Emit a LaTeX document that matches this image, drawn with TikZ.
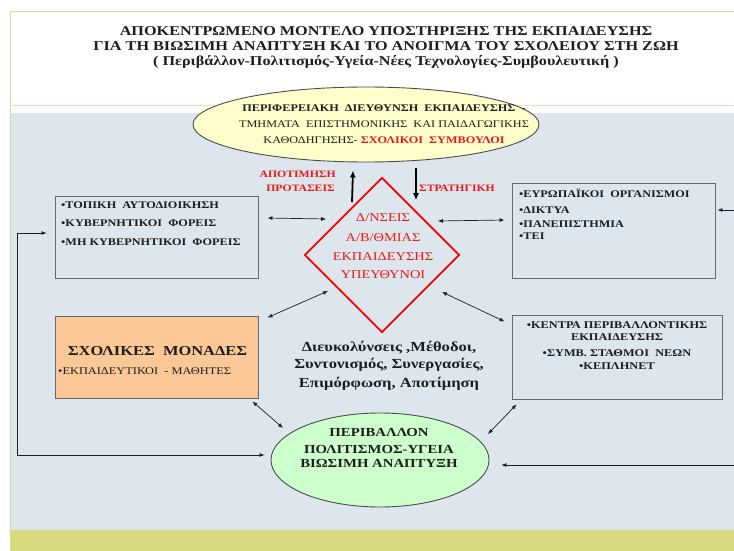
\documentclass[tikz,border=0pt]{standalone}
\usepackage{fontspec}
\setmainfont{Liberation Serif}[FakeStretch=1.2]
\usetikzlibrary{arrows.meta,shapes.geometric,calc}

\definecolor{slidebg}{RGB}{221,230,236}
\definecolor{band}{RGB}{214,217,125}
\definecolor{frameline}{RGB}{214,220,160}
\definecolor{paleyellow}{RGB}{255,255,204}
\definecolor{palegreen}{RGB}{204,255,204}
\definecolor{peach}{RGB}{250,200,150}
\definecolor{boxline}{RGB}{105,105,105}
\definecolor{alertred}{RGB}{235,25,25}
\definecolor{ink}{RGB}{30,30,30}

\tikzset{
  panel/.style={draw=boxline, line width=0.9pt, inner sep=0pt, rectangle},
  tip/.tip={Latex[length=5pt,width=4pt]},
  conn/.style={draw=ink, line width=0.7pt, -tip},
  dconn/.style={draw=ink, line width=0.7pt, tip-tip},
  bigarrow/.style={draw=black, line width=1.8pt, -{Latex[length=7pt,width=6pt]}},
  txt/.style={inner sep=0pt, text=ink},
  titletxt/.style={txt, anchor=base, font=\fontsize{13.5}{13.5}\selectfont\bfseries},
  itemtxt/.style={txt, anchor=base west, font=\fontsize{10.2}{10}\selectfont\bfseries},
  ctxt/.style={txt, anchor=base, font=\fontsize{10.3}{10}\selectfont\bfseries},
  redlbl/.style={inner sep=0pt, text=alertred, font=\fontsize{9.8}{10}\selectfont\bfseries},
  diatxt/.style={inner sep=0pt, anchor=base, text=alertred, font=\fontsize{12}{12}\selectfont},
  midtxt/.style={txt, anchor=base, font=\fontsize{13.8}{13.8}\selectfont\bfseries},
  gretxt/.style={txt, anchor=base, font=\fontsize{12.3}{12.3}\selectfont\bfseries},
}

\begin{document}
\begin{tikzpicture}[x=1pt,y=-1pt]
\useasboundingbox (0,0) rectangle (734,551);

% slide background, body panel and footer band
\fill[white] (0,0) rectangle (734,551);
\fill[slidebg] (10,113) rectangle (734,530);
\fill[band] (10,530) rectangle (734,551);
\draw[frameline, line width=0.8pt] (734,11) -- (10,11) -- (10,551);
\draw[frameline, line width=0.6pt, densely dotted] (10,105) -- (734,105);

% title
\node[titletxt] (title1) at (386,35.5) {ΑΠΟΚΕΝΤΡΩΜΕΝΟ ΜΟΝΤΕΛΟ ΥΠΟΣΤΗΡΙΞΗΣ ΤΗΣ ΕΚΠΑΙΔΕΥΣΗΣ};
\node[titletxt] (title2) at (386,50.5) {ΓΙΑ ΤΗ ΒΙΩΣΙΜΗ ΑΝΑΠΤΥΞΗ ΚΑΙ ΤΟ ΑΝΟΙΓΜΑ ΤΟΥ ΣΧΟΛΕΙΟΥ ΣΤΗ ΖΩΗ};
\node[titletxt] (title3) at (386,65.5) {( Περιβάλλον-Πολιτισμός-Υγεία-Νέες Τεχνολογίες-Συμβουλευτική )};

% regional directorate
\node[ellipse, draw=black!70, line width=0.9pt, fill=paleyellow, minimum width=346, minimum height=75, inner sep=0pt] (reg) at (366,124.5) {};
\node[txt, anchor=base, font=\fontsize{10.2}{10}\selectfont\bfseries] (reg1) at (384,111.5) {ΠΕΡΙΦΕΡΕΙΑΚΗ\ \ ΔΙΕΥΘΥΝΣΗ\ \ ΕΚΠΑΙΔΕΥΣΗΣ\ \ -};
\node[txt, anchor=base, font=\fontsize{10.2}{10}\selectfont] (reg2) at (384,127.5) {ΤΜΗΜΑΤΑ\ \ ΕΠΙΣΤΗΜΟΝΙΚΗΣ\ \ ΚΑΙ ΠΑΙΔΑΓΩΓΙΚΗΣ};
\node[txt, anchor=base, font=\fontsize{10.2}{10}\selectfont] (reg3) at (384,143.5) {ΚΑΘΟΔΗΓΗΣΗΣ- {\color{alertred}\bfseries ΣΧΟΛΙΚΟΙ\ \ ΣΥΜΒΟΥΛΟΙ}};

% central diamond
\node[diamond, aspect=1, draw=red, line width=1.7pt, minimum width=155, minimum height=155, inner sep=0pt] (dia) at (382,255) {};
\node[diatxt] (dia1) at (383,221.5) {Δ/ΝΣΕΙΣ};
\node[diatxt] (dia2) at (383,241) {Α/Β/ΘΜΙΑΣ};
\node[diatxt] (dia3) at (383,260) {ΕΚΠΑΙΔΕΥΣΗΣ};
\node[diatxt] (dia4) at (383,278) {ΥΠΕΥΘΥΝΟΙ};

% labels on the vertical arrows
\node[redlbl, anchor=base east] (lblA) at (336,177.5) {ΑΠΟΤΙΜΗΣΗ};
\node[redlbl, anchor=base east] (lblB) at (335,191.5) {ΠΡΟΤΑΣΕΙΣ};
\node[redlbl, anchor=base west] (lblC) at (419,191.5) {ΣΤΡΑΤΗΓΙΚΗ};

% local bodies
\node[panel, minimum width=203, minimum height=82] (loc) at (156.5,237) {};
\node[itemtxt] (loc1) at (61,208.5) {•ΤΟΠΙΚΗ\ \ ΑΥΤΟΔΙΟΙΚΗΣΗ};
\node[itemtxt] (loc2) at (61,226.5) {•ΚΥΒΕΡΝΗΤΙΚΟΙ\ \ ΦΟΡΕΙΣ};
\node[itemtxt] (loc3) at (61,245.5) {•ΜΗ ΚΥΒΕΡΝΗΤΙΚΟΙ\ \ ΦΟΡΕΙΣ};

% european bodies
\node[panel, minimum width=203, minimum height=95] (eur) at (613.5,230.5) {};
\node[itemtxt] (eur1) at (519,197.5) {•ΕΥΡΩΠΑΪΚΟΙ\ \ ΟΡΓΑΝΙΣΜΟΙ};
\node[itemtxt] (eur2) at (519,213.5) {•ΔΙΚΤΥΑ};
\node[itemtxt] (eur3) at (519,227.5) {•ΠΑΝΕΠΙΣΤΗΜΙΑ};
\node[itemtxt] (eur4) at (519,239.5) {•ΤΕΙ};

% school units
\node[panel, fill=peach, minimum width=203, minimum height=82] (sch) at (156.5,357) {};
\node[txt, anchor=base, font=\fontsize{13.7}{14}\selectfont\bfseries] (sch1) at (157.5,355) {ΣΧΟΛΙΚΕΣ\ \ ΜΟΝΑΔΕΣ};
\node[txt, anchor=base west, font=\fontsize{10.3}{10}\selectfont] (sch2) at (58,374) {•ΕΚΠΑΙΔΕΥΤΙΚΟΙ\ \ - ΜΑΘΗΤΕΣ};

% environmental centres
\node[panel, minimum width=210, minimum height=84] (env) at (617,357) {};
\node[ctxt] (env1) at (617,328.5) {•ΚΕΝΤΡΑ ΠΕΡΙΒΑΛΛΟΝΤΙΚΗΣ};
\node[ctxt] (env2) at (617,340.5) {ΕΚΠΑΙΔΕΥΣΗΣ};
\node[ctxt] (env3) at (617,356.5) {•ΣΥΜΒ. ΣΤΑΘΜΟΙ\ \ ΝΕΩΝ};
\node[ctxt] (env4) at (617,369.5) {•ΚΕΠΛΗΝΕΤ};

% middle text
\node[midtxt] (mid1) at (389,351) {Διευκολύνσεις ,Μέθοδοι,};
\node[midtxt] (mid2) at (389,368) {Συντονισμός, Συνεργασίες,};
\node[midtxt] (mid3) at (389,387) {Επιμόρφωση, Αποτίμηση};

% environment ellipse
\node[ellipse, draw=black!70, line width=0.9pt, fill=palegreen, minimum width=218, minimum height=94, inner sep=0pt] (gre) at (380,460) {};
\node[gretxt] (gre1) at (379,436) {ΠΕΡΙΒΑΛΛΟΝ};
\node[gretxt] (gre2) at (379,453) {ΠΟΛΙΤΙΣΜΟΣ-ΥΓΕΙΑ};
\node[gretxt] (gre3) at (379,467) {ΒΙΩΣΙΜΗ ΑΝΑΠΤΥΞΗ};

% free ends at the slide edges and the left return path
\coordinate (edgeR1) at (734,210);
\coordinate (edgeR2) at (734,465);
\coordinate (turn1) at (17,233);
\coordinate (turn2) at (17,455);

% vertical arrows between directorate and diamond
\draw[bigarrow] ($(dia.north)+(-30,25.5)$) -- ($(reg.south)+(-13,8)$);
\draw[bigarrow] ($(reg.south)+(50,6)$) -- ($(dia.north)+(34,23.5)$);

% connectors
\draw[dconn] ($(loc.east)+(9,-19)$) -- ($(dia.west)+(22.5,-36)$);
\draw[dconn] ($(eur.west)+(-7,-10.5)$) -- ($(dia.east)+(-22.5,-34)$);
\draw[conn] (edgeR1) -- ($(eur.east)+(2,-20.5)$);
\draw[dconn] ($(loc.west)+(-8,-4)$) -- (turn1) -- (turn2) -- ($(gre.west)+(-6,-5)$);
\draw[conn] (edgeR2) -- ($(gre.east)+(12,5)$);
\draw[dconn] ($(sch.north east)+(9,2)$) -- ($(dia.center)+(-54,36)$);
\draw[dconn] ($(env.north west)+(-7,7)$) -- ($(dia.center)+(60,37)$);
\draw[dconn] ($(sch.south east)+(-6,3)$) -- ($(gre.center)+(-97,-32)$);
\draw[dconn] ($(gre.center)+(108,-26)$) -- ($(env.south west)+(5,5)$);
\end{tikzpicture}
\end{document}
